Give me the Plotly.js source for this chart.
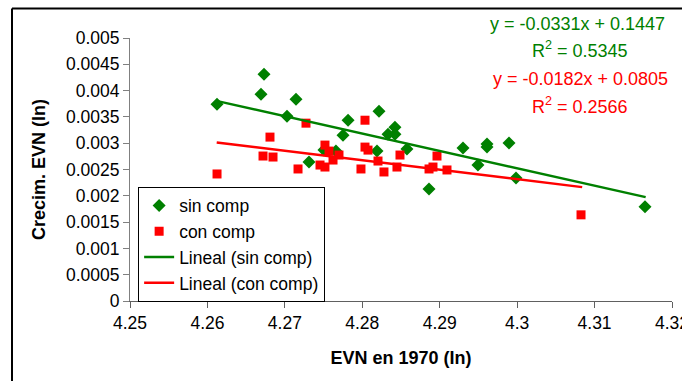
<!DOCTYPE html>
<html>
<head>
<meta charset="utf-8">
<script src="https://cdn.plot.ly/plotly-3.0.1.min.js"></script>
<style>
  html, body { margin: 0; padding: 0; background: #fff; }
  #chart { width: 682px; height: 381px; }
</style>
</head>
<body>
<div id="chart"></div>
<script>
// sin comp (green diamonds)
const sinX = [4.26124, 4.26731, 4.26692, 4.27144, 4.27028, 4.27312, 4.27751, 4.27816,
              4.28216, 4.28332, 4.28422, 4.28422, 4.28577, 4.28190, 4.27505, 4.27660,
              4.29301, 4.29611, 4.29611, 4.29895, 4.29494, 4.28862, 4.29985, 4.31651];
const sinY = [0.003741, 0.004309, 0.003930, 0.003835, 0.003513, 0.002642, 0.003153, 0.003437,
              0.003608, 0.003172, 0.003305, 0.003172, 0.002888, 0.002850, 0.002869, 0.002850,
              0.002907, 0.002983, 0.002926, 0.003002, 0.002585, 0.002131, 0.002339, 0.001790];
// con comp (red squares)
const conX = [4.26124, 4.26718, 4.26847, 4.26808, 4.27170, 4.27273, 4.27454, 4.27518,
              4.27518, 4.27570, 4.27622, 4.27699, 4.28035, 4.28035, 4.28074, 4.27983,
              4.28203, 4.28280, 4.28448, 4.28487, 4.28862, 4.28913, 4.28965, 4.29094, 4.30825];
const conY = [0.002415, 0.002756, 0.002737, 0.003116, 0.002510, 0.003381, 0.002585, 0.002547,
              0.002964, 0.002850, 0.002680, 0.002775, 0.003437, 0.002926, 0.002869, 0.002510,
              0.002661, 0.002453, 0.002547, 0.002775, 0.002510, 0.002547, 0.002756, 0.002491, 0.001638];

// linear trend lines (end points)
const trendSinX = [4.2613, 4.3166];
const trendSinY = [0.003800, 0.001975];
const trendConX = [4.2612, 4.3084];
const trendConY = [0.003015, 0.002165];

const xTicks = [4.25, 4.26, 4.27, 4.28, 4.29, 4.3, 4.31, 4.32];
const xTickText = ['4.25', '4.26', '4.27', '4.28', '4.29', '4.3', '4.31', '4.32'];
const yTicks = [0, 0.0005, 0.001, 0.0015, 0.002, 0.0025, 0.003, 0.0035, 0.004, 0.0045, 0.005];
const yTickText = ['0', '0.0005', '0.001', '0.0015', '0.002', '0.0025', '0.003', '0.0035', '0.004', '0.0045', '0.005'];

const eqSin = 'y = -0.0331x + 0.1447';
const r2Sin = 'R<sup>2</sup> = 0.5345';
const eqCon = 'y = -0.0182x + 0.0805';
const r2Con = 'R<sup>2</sup> = 0.2566';

const GREEN = '#008000', RED = '#ff0000';
const FONT = 'Liberation Sans, Arial, sans-serif';

function note(text, px, py, color) {
  return { xref: 'paper', yref: 'paper', x: (px - 130) / 542, y: (301.5 - py) / 264,
           xanchor: 'center', yanchor: 'middle',
           text: text, showarrow: false, font: { color: color, size: 18, family: FONT } };
}

const traces = [
  { x: sinX, y: sinY, type: 'scatter', mode: 'markers', name: 'sin comp',
    marker: { symbol: 'diamond', size: 10, color: GREEN } },
  { x: conX, y: conY, type: 'scatter', mode: 'markers', name: 'con comp',
    marker: { symbol: 'square', size: 9, color: RED } },
  { x: trendSinX, y: trendSinY, type: 'scatter', mode: 'lines', name: 'Lineal (sin comp)',
    line: { color: GREEN, width: 2.5 } },
  { x: trendConX, y: trendConY, type: 'scatter', mode: 'lines', name: 'Lineal (con comp)',
    line: { color: RED, width: 2.5 } }
];

const layout = {
  width: 682, height: 381,
  margin: { l: 130, r: 10, t: 37.5, b: 79.5 },
  paper_bgcolor: '#fff', plot_bgcolor: '#fff',
  font: { family: FONT, size: 17.5, color: '#000' },
  showlegend: true,
  legend: {
    x: 0.015, y: 0.435, xanchor: 'left', yanchor: 'top',
    bgcolor: '#fff', bordercolor: '#000', borderwidth: 1,
    font: { family: FONT, size: 17.5, color: '#000' },
    traceorder: 'normal'
  },
  xaxis: {
    range: [4.25, 4.32], tickvals: xTicks, ticktext: xTickText,
    ticklabeloverflow: 'allow',
    showgrid: false, zeroline: false, showline: true, linecolor: '#606060', linewidth: 1,
    ticks: 'outside', ticklen: 6, tickcolor: '#606060',
    tickfont: { family: FONT, size: 17.5 },
    title: { text: '<b>EVN en 1970 (In)</b>', font: { family: FONT, size: 18 }, standoff: 19 }
  },
  yaxis: {
    range: [0, 0.005], tickvals: yTicks, ticktext: yTickText,
    showgrid: false, zeroline: false, showline: true, linecolor: '#808080', linewidth: 1,
    ticks: 'outside', ticklen: 6, tickcolor: '#808080',
    tickfont: { family: FONT, size: 17.5 },
    title: { text: '<b>Crecim. EVN (In)</b>', font: { family: FONT, size: 18 }, standoff: 15 }
  },
  annotations: [
    note(eqSin, 577.5, 23, GREEN),
    note(r2Sin, 580, 49, GREEN),
    note(eqCon, 580, 79, RED),
    note(r2Con, 580, 105, RED)
  ],
  shapes: [
    { type: 'line', xref: 'paper', yref: 'paper',
      x0: (12 - 130) / 542, x1: (700 - 130) / 542, y0: (301.5 - 8) / 264, y1: (301.5 - 8) / 264,
      line: { color: '#000', width: 2 } },
    { type: 'line', xref: 'paper', yref: 'paper',
      x0: (12 - 130) / 542, x1: (12 - 130) / 542, y0: (301.5 - 8) / 264, y1: (301.5 - 400) / 264,
      line: { color: '#000', width: 2 } }
  ]
};

Plotly.newPlot('chart', traces, layout, { staticPlot: true, displayModeBar: false });
</script>
</body>
</html>
